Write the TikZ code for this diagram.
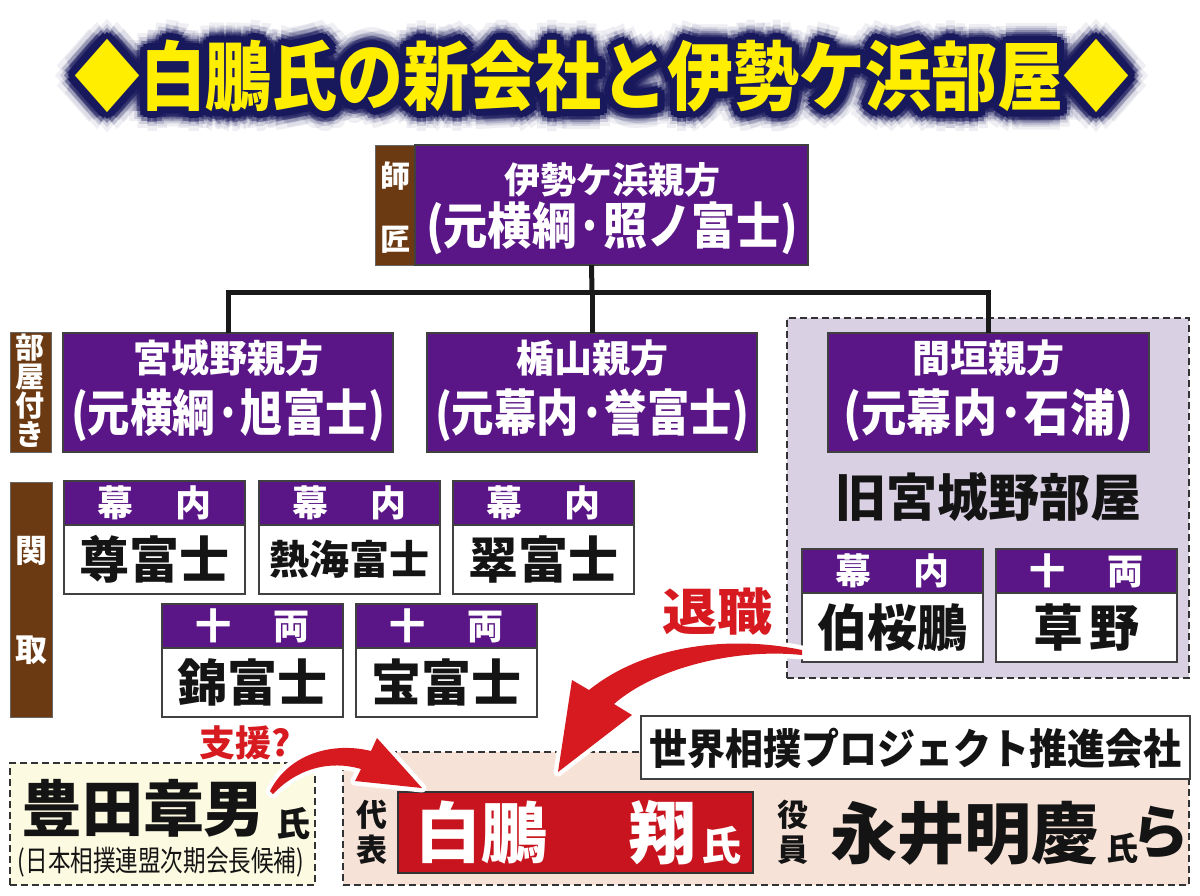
\documentclass[tikz,border=0pt]{standalone}
\usepackage{fontspec}
\usepackage{graphicx}
\newfontfamily\jp{Noto Sans CJK JP}
\usetikzlibrary{calc}
\definecolor{purp}{RGB}{90,22,134}
\definecolor{brn}{RGB}{108,58,18}
\definecolor{lav}{RGB}{218,208,228}
\definecolor{cream}{RGB}{252,250,224}
\definecolor{peach}{RGB}{246,226,215}
\definecolor{boxred}{RGB}{200,20,30}
\definecolor{arrred}{RGB}{214,26,32}
\definecolor{tyellow}{RGB}{255,238,0}
\definecolor{navy}{RGB}{24,24,92}
\newcommand\fsz[1]{\fontsize{#1}{#1}\selectfont}
\newcommand\fitw[2]{\resizebox{#1}{\height}{#2}}
\newcommand\rect[6]{\node[#1, anchor=north west, minimum width={((#5)-(#3))*1pt}, minimum height={((#6)-(#4))*1pt}] (#2) at (#3,#4) {};}
\newcommand\rikishi[6]{%
  \rect{pbox}{#1h}{#2}{#3}{#2+181}{#3+44}
  \rect{wbox}{#1n}{#2}{#3+44}{#2+181}{#3+113}
  \node[wt, font=\jp\bfseries\fsz{36}] (#1ht) at (#1h.center) {#4};
  \node[bt, font=\jp\bfseries\fsz{#6}] (#1nt) at (#1n.center) {#5};
}
\newcommand\ttl{\scalebox{1}[1.14]{◆白鵬氏の新会社と伊勢ケ浜部屋◆}}
\begin{document}
\begin{tikzpicture}[x=1pt,y=-1pt,
  font=\jp\bfseries,
  every node/.style={inner sep=0pt, outer sep=0pt},
  pbox/.style={fill=purp, draw=black!75, line width=1.2pt},
  bbar/.style={fill=brn, draw=black!60, line width=1pt},
  wbox/.style={fill=white, draw=black!75, line width=1.2pt},
  dbox/.style={draw=black!80, line width=1.3pt, dash pattern=on 7pt off 4pt},
  wt/.style={text=white},
  bt/.style={text=black!92},
  conn/.style={line width=5pt, draw=black!90},
  outl/.style={draw=white, fill=white, line width=9pt, line join=round},
  arr/.style={fill=arrred}]
\useasboundingbox (0,0) rectangle (1200,895);
\fill[white] (0,0) rectangle (1200,895);

% ---------- title ----------
\foreach \r/\op in {20/0.07, 15/0.15, 11/0.4, 7/1, 4/1} {
  \foreach \a in {0,30,...,330} {
    \node[text=navy, opacity=\op, font=\jp\bfseries\fsz{66}] (glow-\r-\a) at ($(602,76)+(\a:\r)$) {\ttl};
  }
}
\node[text=tyellow, font=\jp\bfseries\fsz{66}] (title) at (602,76) {\ttl};

% ---------- master ----------
\rect{bbar}{shisho}{375}{145}{415}{265}
\node[wt, font=\jp\bfseries\fsz{30}] (shi1) at (395,176) {師};
\node[wt, font=\jp\bfseries\fsz{30}] (shi2) at (395,240) {匠};
\rect{pbox}{ise}{415}{145}{808}{265}
\node[wt, font=\jp\bfseries\fsz{36}] (ise1) at (612,180) {伊勢ケ浜親方};
\node[wt, font=\jp\bfseries\fsz{50}] (ise2) at (612,228) {\fitw{372pt}{(元横綱·照ノ富士)}};
\coordinate (topc) at ($(shisho.south west)!0.5!(ise.south east)$);

% ---------- former Miyagino region ----------
\rect{dbox, fill=lav}{kyu}{787}{318}{1189}{678}

% ---------- oyakata row ----------
\rect{bbar}{heya}{10}{332}{51}{452}
\node[wt, font=\jp\bfseries\fsz{29}] (hy1) at (30.5,348) {部};
\node[wt, font=\jp\bfseries\fsz{29}] (hy2) at (30.5,377) {屋};
\node[wt, font=\jp\bfseries\fsz{29}] (hy3) at (30.5,406) {付};
\node[wt, font=\jp\bfseries\fsz{29}] (hy4) at (30.5,435) {き};

\rect{pbox}{miya}{63}{333}{393}{452}
\node[wt, font=\jp\bfseries\fsz{38}] (miya1) at (228,358) {宮城野親方};
\node[wt, font=\jp\bfseries\fsz{50}] (miya2) at (228,415) {\fitw{314pt}{(元横綱·旭富士)}};
\rect{pbox}{tate}{427}{333}{757}{452}
\node[wt, font=\jp\bfseries\fsz{38}] (tate1) at (592,358) {楯山親方};
\node[wt, font=\jp\bfseries\fsz{50}] (tate2) at (592,415) {\fitw{314pt}{(元幕内·誉富士)}};
\rect{pbox}{maga}{828}{333}{1149}{452}
\node[wt, font=\jp\bfseries\fsz{38}] (maga1) at (988.5,358) {間垣親方};
\node[wt, font=\jp\bfseries\fsz{50}] (maga2) at (988.5,415) {\fitw{290pt}{(元幕内·石浦)}};

\coordinate (j) at (592,292);
\draw[conn] (topc) -- (j);
\draw[conn, line join=miter] (miya.north) |- (j) -| (maga.north);
\draw[conn] (j) -- (tate.north);

\node[bt, font=\jp\bfseries\fsz{51}] (kyutxt) at (988,497) {旧宮城野部屋};

% ---------- sekitori ----------
\rect{bbar}{seki}{10}{482}{52}{717}
\node[wt, font=\jp\bfseries\fsz{32}] (sk1) at (31,551) {関};
\node[wt, font=\jp\bfseries\fsz{32}] (sk2) at (31,650) {取};

\rikishi{takayasu}{64}{481}{幕\hspace{42pt}内}{尊富士}{50}
\rikishi{atami}{259}{481}{幕\hspace{42pt}内}{熱海富士}{40}
\rikishi{midori}{453}{481}{幕\hspace{42pt}内}{翠富士}{50}
\rikishi{nishiki}{162}{604}{十\hspace{42pt}両}{錦富士}{50}
\rikishi{takara}{356}{604}{十\hspace{42pt}両}{宝富士}{50}
\rikishi{hakuo}{802}{549}{幕\hspace{42pt}内}{伯桜鵬}{50}
\rikishi{kusano}{996}{549}{十\hspace{42pt}両}{草\hspace{6pt}野}{50}

% ---------- bottom ----------
\rect{dbox, fill=cream}{toyoda}{10}{763}{315}{885}
\node[bt, font=\jp\bfseries\fsz{61}] (toy1) at (143,808) {豊田章男};
\node[bt, font=\jp\bfseries\fsz{34}] (toy2) at (293,824) {氏};
\node[bt, font=\jp\fsz{29}] (toy3) at (161,862) {\fitw{286pt}{(日本相撲連盟次期会長候補)}};

\rect{dbox, fill=peach}{co}{343}{752}{1189}{885}
\rect{wbox, line width=1.5pt}{coname}{641}{716}{1190}{779}
\node[bt, font=\jp\bfseries\fsz{42}] (conametxt) at (915.5,748) {\fitw{532pt}{世界相撲プロジェクト推進会社}};

\node[bt, font=\jp\bfseries\fsz{31}] (dai1) at (372,815) {代};
\node[bt, font=\jp\bfseries\fsz{31}] (dai2) at (372,850) {表};
\rect{fill=boxred, draw=black!80, line width=1.2pt}{haku}{398}{792}{753}{873}
\node[wt, font=\jp\bfseries\fsz{66}] (haku1) at (481,833) {白鵬};
\node[wt, font=\jp\bfseries\fsz{68}] (haku2) at (662,833) {翔};
\node[wt, font=\jp\bfseries\fsz{40}] (haku3) at (721,845) {氏};

\node[bt, font=\jp\bfseries\fsz{31}] (yak1) at (793,815) {役};
\node[bt, font=\jp\bfseries\fsz{31}] (yak2) at (793,850) {員};
\node[bt, font=\jp\bfseries\fsz{67}] (nagai1) at (964,833) {永井明慶};
\node[bt, font=\jp\bfseries\fsz{32}] (nagai2) at (1122,848) {氏};
\node[bt, font=\jp\bfseries\fsz{58}] (nagai3) at (1160,833) {ら};

% ---------- arrows ----------
\node[text=arrred, font=\jp\bfseries\fsz{50}] (taishoku) at (717,612) {\scalebox{1.1}[1]{退職}};
\path[outl] (802,650) .. controls (730,635) and (645,645) .. (589,690) -- (572,680) -- (558,772) -- (632,715) -- (614,704) .. controls (655,668) and (735,648) .. (802,655) -- cycle;
\path[arr] (802,650) .. controls (730,635) and (645,645) .. (589,690) -- (572,680) -- (558,772) -- (632,715) -- (614,704) .. controls (655,668) and (735,648) .. (802,655) -- cycle;

\node[text=arrred, font=\jp\bfseries\fsz{36}] (shien) at (245,743) {支援?};
\path[outl] (270,791) .. controls (290,752) and (335,742) .. (371,751) -- (377,738) -- (422,788) -- (355,781) -- (361,769) .. controls (330,760) and (298,768) .. (273,794) -- cycle;
\path[arr] (270,791) .. controls (290,752) and (335,742) .. (371,751) -- (377,738) -- (422,788) -- (355,781) -- (361,769) .. controls (330,760) and (298,768) .. (273,794) -- cycle;
\end{tikzpicture}
\end{document}
